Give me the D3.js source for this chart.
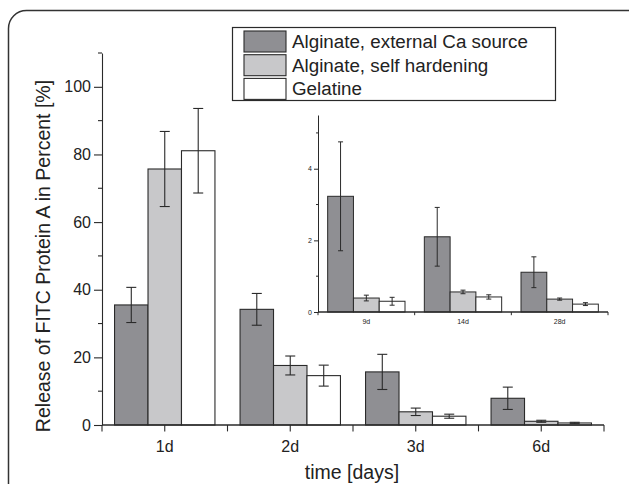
<!DOCTYPE html>
<html>
<head>
<meta charset="utf-8">
<script src="https://cdn.jsdelivr.net/npm/d3@7"></script>
<style>
  body { margin: 0; background: #fff; }
  text { font-family: "Liberation Sans", Arial, sans-serif; fill: #222; }
</style>
</head>
<body>
<script>
// categories and series
var days = ["1d", "2d", "3d", "6d"];
var insetDays = ["9d", "14d", "28d"];
var series = ["Alginate, external Ca source", "Alginate, self hardening", "Gelatine"];
var colors = ["#8f8f93", "#c8c8ca", "#ffffff"];

// main values (percent) and errors
var extCa = [35.5, 34.2, 15.7, 7.9];
var extCaErr = [5.2, 4.7, 5.2, 3.3];
var selfHard = [75.7, 17.6, 3.9, 1.1];
var selfHardErr = [11.1, 2.8, 1.1, 0.3];
var gelatine = [81.1, 14.6, 2.6, 0.6];
var gelatineErr = [12.5, 3.1, 0.6, 0.2];

// inset values
var insetExtCa = [3.23, 2.10, 1.11];
var insetExtCaErr = [1.52, 0.82, 0.43];
var insetSelfHard = [0.39, 0.56, 0.36];
var insetSelfHardErr = [0.08, 0.05, 0.03];
var insetGelatine = [0.30, 0.42, 0.22];
var insetGelatineErr = [0.11, 0.06, 0.04];

var yTicks = [0, 20, 40, 60, 80, 100];
var insetTicks = [0, 2, 4];

var width = 629, height = 484;

var svg = d3.select("body").append("svg")
    .attr("width", width)
    .attr("height", height);

// rounded frame
svg.append("rect")
    .attr("x", 8.5).attr("y", 10.5)
    .attr("width", 640).attr("height", 520)
    .attr("rx", 18)
    .attr("fill", "none")
    .attr("stroke", "#333")
    .attr("stroke-width", 1.5);

function makeRows(cats, vals, errs) {
  return cats.map(function(c, i) {
    return {cat: c, items: series.map(function(s, j) {
      return {s: s, j: j, v: vals[j][i], e: errs[j][i]};
    })};
  });
}

function drawChart(g, opt) {
  var x = d3.scaleBand().domain(opt.cats).range(opt.xr)
      .paddingInner(0.2).paddingOuter(0.1);
  var y = d3.scaleLinear().domain(opt.yd).range(opt.yr);
  var x1 = d3.scaleBand().domain(series).range([0, x.bandwidth()]);
  var rows = makeRows(opt.cats, opt.vals, opt.errs);

  var grp = g.selectAll(".grp").data(rows).enter().append("g")
      .attr("transform", function(d) { return "translate(" + x(d.cat) + ",0)"; });

  grp.selectAll("rect").data(function(d) { return d.items; }).enter().append("rect")
      .attr("x", function(d) { return x1(d.s); })
      .attr("y", function(d) { return y(d.v); })
      .attr("width", x1.bandwidth())
      .attr("height", function(d) { return y(0) - y(d.v); })
      .attr("fill", function(d) { return colors[d.j]; })
      .attr("stroke", "#2a2a2a")
      .attr("stroke-width", opt.sw);

  // error bars
  var eb = grp.selectAll(".eb").data(function(d) { return d.items; }).enter().append("g")
      .attr("stroke", "#2a2a2a").attr("stroke-width", opt.sw);
  var cx = function(d) { return x1(d.s) + x1.bandwidth() / 2; };
  eb.append("line")
      .attr("x1", cx).attr("x2", cx)
      .attr("y1", function(d) { return y(d.v + d.e); })
      .attr("y2", function(d) { return y(d.v - d.e); });
  [1, -1].forEach(function(k) {
    eb.append("line")
        .attr("x1", function(d) { return cx(d) - opt.cap; })
        .attr("x2", function(d) { return cx(d) + opt.cap; })
        .attr("y1", function(d) { return y(d.v + k * d.e); })
        .attr("y2", function(d) { return y(d.v + k * d.e); });
  });

  // y axis
  var ya = g.append("g").attr("transform", "translate(" + opt.xr[0] + ",0)")
      .call(d3.axisLeft(y).tickValues(opt.ticks).tickFormat(d3.format("d"))
        .tickSize(opt.tick).tickPadding(opt.pad).tickSizeOuter(0));
  ya.select(".domain").attr("stroke", "#2a2a2a").attr("stroke-width", opt.sw);
  ya.selectAll(".tick line").attr("stroke", "#2a2a2a").attr("stroke-width", opt.sw);
  ya.selectAll("text").style("font-size", opt.fs + "px")
      .style("font-family", "'Liberation Sans', Arial, sans-serif").attr("fill", "#222");
  // minor ticks
  g.append("g").selectAll("line").data(opt.minor).enter().append("line")
      .attr("x1", opt.xr[0] - opt.tick / 2).attr("x2", opt.xr[0])
      .attr("y1", function(d) { return y(d); }).attr("y2", function(d) { return y(d); })
      .attr("stroke", "#2a2a2a").attr("stroke-width", opt.sw);

  // x axis
  var y0 = y(0);
  g.append("line").attr("x1", opt.xr[0]).attr("x2", opt.xr[1])
      .attr("y1", y0).attr("y2", y0)
      .attr("stroke", "#2a2a2a").attr("stroke-width", opt.sw * 1.3);
  var bounds = opt.cats.map(function(c) { return x(c) - x.step() * 0.1; });
  bounds.push(opt.xr[1]);
  g.append("g").selectAll("line").data(bounds).enter().append("line")
      .attr("x1", function(d) { return d; }).attr("x2", function(d) { return d; })
      .attr("y1", y0).attr("y2", y0 + opt.tick * 0.8)
      .attr("stroke", "#2a2a2a").attr("stroke-width", opt.sw);
  if (opt.centerTicks) {
    g.append("g").selectAll("line").data(opt.cats).enter().append("line")
        .attr("x1", function(d) { return x(d) + x.bandwidth() / 2; })
        .attr("x2", function(d) { return x(d) + x.bandwidth() / 2; })
        .attr("y1", y0).attr("y2", y0 + opt.tick * 0.8)
        .attr("stroke", "#2a2a2a").attr("stroke-width", opt.sw);
  }
  g.append("g").selectAll("text").data(opt.cats).enter().append("text")
      .attr("x", function(d) { return x(d) + x.bandwidth() / 2; })
      .attr("y", y0 + opt.labelDy)
      .attr("text-anchor", "middle")
      .style("font-size", opt.fs + "px")
      .text(function(d) { return d; });
}

// main chart
drawChart(svg.append("g"), {
  cats: days, xr: [102, 604], yd: [0, 110], yr: [425, 53],
  vals: [extCa, selfHard, gelatine], errs: [extCaErr, selfHardErr, gelatineErr],
  ticks: yTicks, minor: [10, 30, 50, 70, 90, 110], tick: 8, pad: 3, fs: 16, sw: 1.1,
  cap: 5, labelDy: 27, centerTicks: true
});

// inset chart
drawChart(svg.append("g"), {
  cats: insetDays, xr: [318, 608], yd: [0, 5.5], yr: [312, 115],
  vals: [insetExtCa, insetSelfHard, insetGelatine],
  errs: [insetExtCaErr, insetSelfHardErr, insetGelatineErr],
  ticks: insetTicks, minor: [1, 3, 5], tick: 4, pad: 2, fs: 7, sw: 1,
  cap: 2.5, labelDy: 12, centerTicks: false
});

// axis titles
svg.append("text")
    .attr("transform", "translate(50,256) rotate(-90)")
    .attr("text-anchor", "middle")
    .style("font-size", "19.5px")
    .text("Release of FITC Protein A in Percent [%]");
svg.append("text")
    .attr("x", 352).attr("y", 479)
    .attr("text-anchor", "middle")
    .style("font-size", "19.5px")
    .text("time [days]");

// legend
var lg = svg.append("g");
lg.append("rect")
    .attr("x", 232.5).attr("y", 27.5).attr("width", 323).attr("height", 73)
    .attr("fill", "#fff").attr("stroke", "#2a2a2a").attr("stroke-width", 1.2);
var li = lg.selectAll(".li").data(series).enter().append("g")
    .attr("transform", function(d, i) { return "translate(244," + (31 + i * 23.7) + ")"; });
li.append("rect")
    .attr("width", 42).attr("height", 21)
    .attr("fill", function(d, i) { return colors[i]; })
    .attr("stroke", "#2a2a2a").attr("stroke-width", 1.1);
li.append("text")
    .attr("x", 48).attr("y", 17)
    .style("font-size", "18.8px")
    .text(function(d) { return d; });
</script>
</body>
</html>
